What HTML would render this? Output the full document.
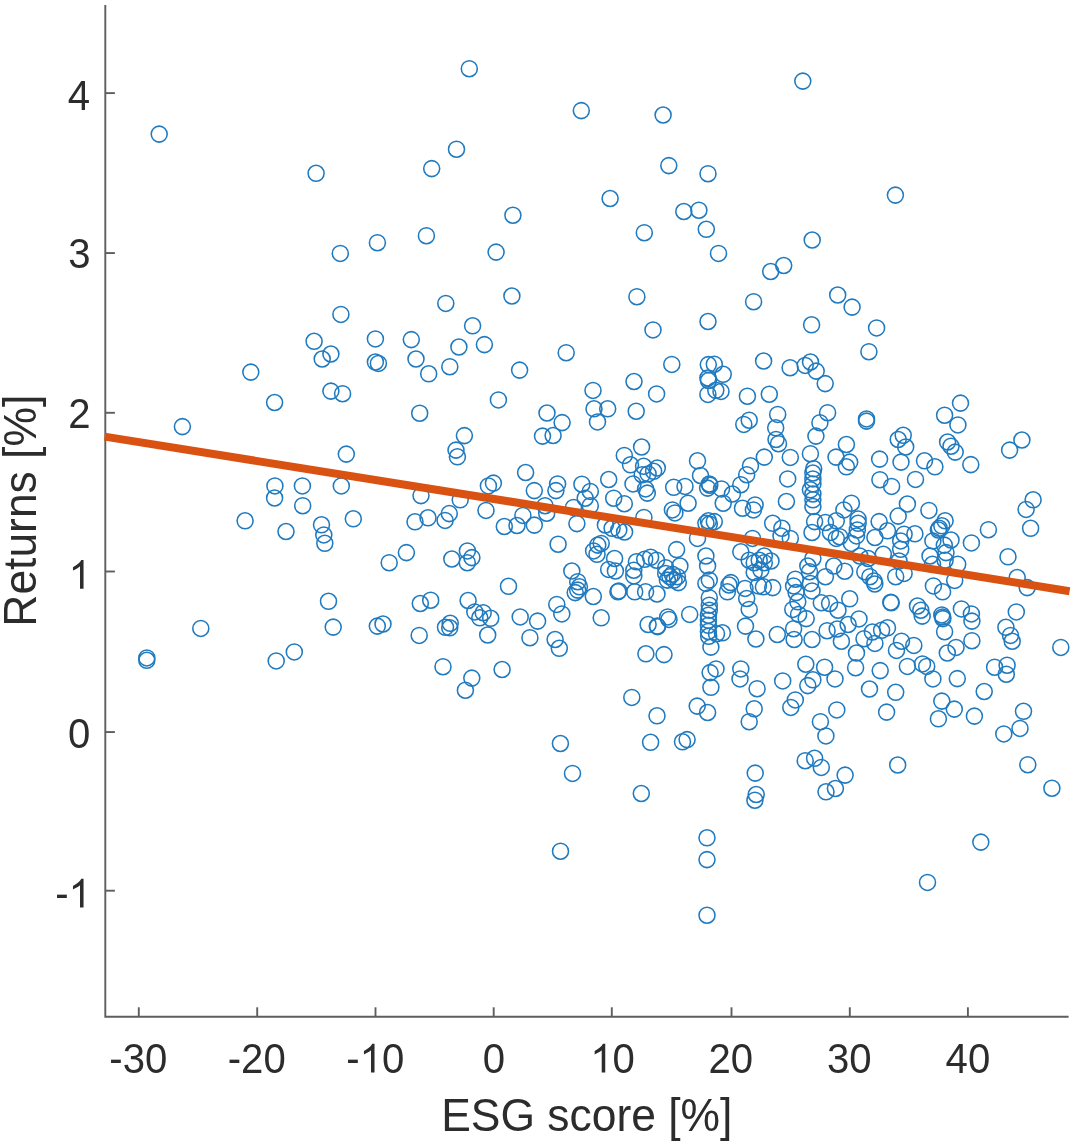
<!DOCTYPE html>
<html><head><meta charset="utf-8"><title>ESG scatter</title>
<style>
html,body{margin:0;padding:0;background:#fff;}
body{width:1074px;height:1143px;overflow:hidden;}
svg{display:block;filter:blur(0.45px);}
text{font-family:"Liberation Sans",sans-serif;fill:#2c2c2c;}
.c circle{fill:none;stroke:#1f7abf;stroke-width:1.55;}
</style></head><body>
<svg width="1074" height="1143" viewBox="0 0 1074 1143">
<rect width="1074" height="1143" fill="#fff"/>
<g stroke="#5e5e5e" stroke-width="1.9" fill="none">
<path d="M105.3 5 V1016.8 H1068.6"/>
<path d="M138.8 1016.8 V1007.3"/>
<path d="M257.2 1016.8 V1007.3"/>
<path d="M375.5 1016.8 V1007.3"/>
<path d="M493.7 1016.8 V1007.3"/>
<path d="M611.8 1016.8 V1007.3"/>
<path d="M731.5 1016.8 V1007.3"/>
<path d="M849.8 1016.8 V1007.3"/>
<path d="M967.9 1016.8 V1007.3"/>
<path d="M105.3 93.10 H114.9"/>
<path d="M105.3 253.05 H114.9"/>
<path d="M105.3 412.80 H114.9"/>
<path d="M105.3 571.50 H114.9"/>
<path d="M105.3 732.05 H114.9"/>
<path d="M105.3 890.70 H114.9"/>
</g>
<g font-size="40.1">
<text transform="translate(109.33 1072.60) scale(1 1.050)">-30</text>
<text transform="translate(227.73 1072.60) scale(1 1.050)">-20</text>
<text transform="translate(346.23 1072.60) scale(1 1.050)">-</text>
<path transform="translate(359.58 1072.60) scale(0.01958 -0.01958)" d="M763 0H583V1147Q518 1085 412.5 1023T223 930V1104Q374 1175 487 1276T647 1472H763Z" fill="#2c2c2c"/>
<text transform="translate(381.88 1072.60) scale(1 1.050)">0</text>
<text transform="translate(482.85 1072.60) scale(1 1.050)">0</text>
<path transform="translate(590.30 1072.60) scale(0.01958 -0.01958)" d="M763 0H583V1147Q518 1085 412.5 1023T223 930V1104Q374 1175 487 1276T647 1472H763Z" fill="#2c2c2c"/>
<text transform="translate(612.60 1072.60) scale(1 1.050)">0</text>
<text transform="translate(708.40 1072.60) scale(1 1.050)">20</text>
<text transform="translate(827.00 1072.60) scale(1 1.050)">30</text>
<text transform="translate(945.60 1072.60) scale(1 1.050)">40</text>
<text transform="translate(67.80 109.70) scale(1 1.050)">4</text>
<text transform="translate(68.20 268.20) scale(1 1.050)">3</text>
<text transform="translate(68.20 428.20) scale(1 1.050)">2</text>
<path transform="translate(68.60 588.80) scale(0.01958 -0.01958)" d="M763 0H583V1147Q518 1085 412.5 1023T223 930V1104Q374 1175 487 1276T647 1472H763Z" fill="#2c2c2c"/>
<text transform="translate(67.90 747.70) scale(1 1.050)">0</text>
<text transform="translate(55.25 907.60) scale(1 1.050)">-</text>
<path transform="translate(68.60 907.60) scale(0.01958 -0.01958)" d="M763 0H583V1147Q518 1085 412.5 1023T223 930V1104Q374 1175 487 1276T647 1472H763Z" fill="#2c2c2c"/>
</g>
<text transform="translate(586.80 1130.70) scale(1 1.030)" font-size="44.4" text-anchor="middle">ESG score [%]</text>
<text transform="translate(35.70 510.70) rotate(-90) scale(1 1.030)" font-size="44.4" text-anchor="middle">Returns [%]</text>
<g class="c">
<circle cx="159.2" cy="134.1" r="8"/>
<circle cx="316.1" cy="173.3" r="8"/>
<circle cx="340.3" cy="253.4" r="8"/>
<circle cx="340.9" cy="314.4" r="8"/>
<circle cx="314.1" cy="341.3" r="8"/>
<circle cx="330.9" cy="354.0" r="8"/>
<circle cx="322.2" cy="359.0" r="8"/>
<circle cx="250.8" cy="372.1" r="8"/>
<circle cx="469.3" cy="68.7" r="8"/>
<circle cx="581.3" cy="110.6" r="8"/>
<circle cx="663.1" cy="115.0" r="8"/>
<circle cx="456.5" cy="149.2" r="8"/>
<circle cx="431.7" cy="168.6" r="8"/>
<circle cx="668.8" cy="165.6" r="8"/>
<circle cx="708.0" cy="173.7" r="8"/>
<circle cx="610.1" cy="198.5" r="8"/>
<circle cx="512.9" cy="215.2" r="8"/>
<circle cx="683.8" cy="211.5" r="8"/>
<circle cx="698.9" cy="210.2" r="8"/>
<circle cx="706.3" cy="229.3" r="8"/>
<circle cx="644.3" cy="232.7" r="8"/>
<circle cx="426.4" cy="235.7" r="8"/>
<circle cx="377.4" cy="242.7" r="8"/>
<circle cx="496.1" cy="252.1" r="8"/>
<circle cx="718.5" cy="253.4" r="8"/>
<circle cx="511.9" cy="296.0" r="8"/>
<circle cx="636.9" cy="296.7" r="8"/>
<circle cx="445.8" cy="303.4" r="8"/>
<circle cx="708.0" cy="321.5" r="8"/>
<circle cx="472.6" cy="325.8" r="8"/>
<circle cx="653.0" cy="329.9" r="8"/>
<circle cx="375.4" cy="338.9" r="8"/>
<circle cx="411.3" cy="339.6" r="8"/>
<circle cx="484.4" cy="344.6" r="8"/>
<circle cx="458.9" cy="347.0" r="8"/>
<circle cx="566.2" cy="352.7" r="8"/>
<circle cx="416.0" cy="359.0" r="8"/>
<circle cx="375.4" cy="362.0" r="8"/>
<circle cx="378.4" cy="363.4" r="8"/>
<circle cx="671.8" cy="364.4" r="8"/>
<circle cx="708.3" cy="364.6" r="8"/>
<circle cx="714.3" cy="364.2" r="8"/>
<circle cx="449.8" cy="366.7" r="8"/>
<circle cx="519.6" cy="370.1" r="8"/>
<circle cx="428.7" cy="373.8" r="8"/>
<circle cx="634.0" cy="381.5" r="8"/>
<circle cx="707.9" cy="378.0" r="8"/>
<circle cx="802.8" cy="81.1" r="8"/>
<circle cx="895.4" cy="195.1" r="8"/>
<circle cx="812.2" cy="240.0" r="8"/>
<circle cx="783.7" cy="265.5" r="8"/>
<circle cx="770.7" cy="271.5" r="8"/>
<circle cx="837.7" cy="295.0" r="8"/>
<circle cx="852.1" cy="307.1" r="8"/>
<circle cx="753.6" cy="301.7" r="8"/>
<circle cx="811.6" cy="324.8" r="8"/>
<circle cx="876.6" cy="327.9" r="8"/>
<circle cx="868.9" cy="351.7" r="8"/>
<circle cx="763.6" cy="361.0" r="8"/>
<circle cx="790.1" cy="367.7" r="8"/>
<circle cx="805.2" cy="365.4" r="8"/>
<circle cx="810.5" cy="362.0" r="8"/>
<circle cx="816.2" cy="371.1" r="8"/>
<circle cx="825.2" cy="383.6" r="8"/>
<circle cx="723.2" cy="374.3" r="8"/>
<circle cx="330.9" cy="391.1" r="8"/>
<circle cx="342.6" cy="393.7" r="8"/>
<circle cx="274.6" cy="402.5" r="8"/>
<circle cx="182.4" cy="426.6" r="8"/>
<circle cx="346.3" cy="454.1" r="8"/>
<circle cx="274.9" cy="485.9" r="8"/>
<circle cx="302.4" cy="485.9" r="8"/>
<circle cx="341.3" cy="485.9" r="8"/>
<circle cx="274.6" cy="498.0" r="8"/>
<circle cx="302.7" cy="505.7" r="8"/>
<circle cx="245.1" cy="520.8" r="8"/>
<circle cx="353.3" cy="518.8" r="8"/>
<circle cx="286.0" cy="531.5" r="8"/>
<circle cx="321.5" cy="524.8" r="8"/>
<circle cx="323.8" cy="534.9" r="8"/>
<circle cx="324.8" cy="543.3" r="8"/>
<circle cx="328.5" cy="601.3" r="8"/>
<circle cx="333.2" cy="627.1" r="8"/>
<circle cx="200.8" cy="628.4" r="8"/>
<circle cx="294.3" cy="651.9" r="8"/>
<circle cx="276.2" cy="660.9" r="8"/>
<circle cx="146.8" cy="657.9" r="8"/>
<circle cx="146.8" cy="660.3" r="8"/>
<circle cx="419.7" cy="413.2" r="8"/>
<circle cx="498.4" cy="399.9" r="8"/>
<circle cx="464.4" cy="435.6" r="8"/>
<circle cx="456.0" cy="450.1" r="8"/>
<circle cx="457.4" cy="456.8" r="8"/>
<circle cx="525.6" cy="472.5" r="8"/>
<circle cx="534.3" cy="490.6" r="8"/>
<circle cx="493.4" cy="483.1" r="8"/>
<circle cx="488.4" cy="485.9" r="8"/>
<circle cx="421.0" cy="495.6" r="8"/>
<circle cx="460.2" cy="499.8" r="8"/>
<circle cx="486.0" cy="510.4" r="8"/>
<circle cx="449.3" cy="513.6" r="8"/>
<circle cx="428.0" cy="517.8" r="8"/>
<circle cx="445.1" cy="520.4" r="8"/>
<circle cx="415.0" cy="521.8" r="8"/>
<circle cx="522.9" cy="515.4" r="8"/>
<circle cx="504.3" cy="526.5" r="8"/>
<circle cx="517.0" cy="525.5" r="8"/>
<circle cx="534.3" cy="525.1" r="8"/>
<circle cx="406.4" cy="552.6" r="8"/>
<circle cx="389.2" cy="562.7" r="8"/>
<circle cx="451.8" cy="559.0" r="8"/>
<circle cx="467.4" cy="550.9" r="8"/>
<circle cx="471.9" cy="557.6" r="8"/>
<circle cx="467.3" cy="562.7" r="8"/>
<circle cx="593.0" cy="390.4" r="8"/>
<circle cx="656.6" cy="393.9" r="8"/>
<circle cx="707.9" cy="394.4" r="8"/>
<circle cx="715.8" cy="390.3" r="8"/>
<circle cx="708.5" cy="380.5" r="8"/>
<circle cx="594.0" cy="408.8" r="8"/>
<circle cx="607.7" cy="408.8" r="8"/>
<circle cx="597.5" cy="421.9" r="8"/>
<circle cx="636.2" cy="411.2" r="8"/>
<circle cx="547.0" cy="413.0" r="8"/>
<circle cx="562.1" cy="422.6" r="8"/>
<circle cx="553.1" cy="435.5" r="8"/>
<circle cx="542.5" cy="436.1" r="8"/>
<circle cx="641.6" cy="447.0" r="8"/>
<circle cx="624.3" cy="455.4" r="8"/>
<circle cx="630.5" cy="464.8" r="8"/>
<circle cx="643.6" cy="466.3" r="8"/>
<circle cx="657.3" cy="468.0" r="8"/>
<circle cx="653.6" cy="471.3" r="8"/>
<circle cx="648.1" cy="473.9" r="8"/>
<circle cx="642.2" cy="474.7" r="8"/>
<circle cx="633.0" cy="483.9" r="8"/>
<circle cx="645.6" cy="488.9" r="8"/>
<circle cx="647.3" cy="493.1" r="8"/>
<circle cx="608.7" cy="479.5" r="8"/>
<circle cx="697.5" cy="460.8" r="8"/>
<circle cx="700.5" cy="475.5" r="8"/>
<circle cx="709.3" cy="483.9" r="8"/>
<circle cx="707.6" cy="488.1" r="8"/>
<circle cx="709.8" cy="485.2" r="8"/>
<circle cx="673.7" cy="487.3" r="8"/>
<circle cx="685.0" cy="486.4" r="8"/>
<circle cx="688.1" cy="503.2" r="8"/>
<circle cx="672.4" cy="509.9" r="8"/>
<circle cx="674.9" cy="512.9" r="8"/>
<circle cx="557.6" cy="483.9" r="8"/>
<circle cx="555.9" cy="490.6" r="8"/>
<circle cx="581.9" cy="484.2" r="8"/>
<circle cx="590.3" cy="491.4" r="8"/>
<circle cx="585.2" cy="498.2" r="8"/>
<circle cx="590.3" cy="505.7" r="8"/>
<circle cx="573.5" cy="507.4" r="8"/>
<circle cx="613.7" cy="498.2" r="8"/>
<circle cx="624.3" cy="503.7" r="8"/>
<circle cx="545.0" cy="505.7" r="8"/>
<circle cx="546.7" cy="513.2" r="8"/>
<circle cx="643.9" cy="517.4" r="8"/>
<circle cx="576.9" cy="523.6" r="8"/>
<circle cx="605.4" cy="525.0" r="8"/>
<circle cx="612.1" cy="528.3" r="8"/>
<circle cx="618.8" cy="530.0" r="8"/>
<circle cx="624.6" cy="532.0" r="8"/>
<circle cx="708.4" cy="520.8" r="8"/>
<circle cx="709.3" cy="524.1" r="8"/>
<circle cx="705.9" cy="523.3" r="8"/>
<circle cx="714.3" cy="521.6" r="8"/>
<circle cx="697.5" cy="538.4" r="8"/>
<circle cx="558.1" cy="544.2" r="8"/>
<circle cx="601.2" cy="543.4" r="8"/>
<circle cx="597.8" cy="545.1" r="8"/>
<circle cx="593.6" cy="550.9" r="8"/>
<circle cx="597.0" cy="554.3" r="8"/>
<circle cx="614.6" cy="558.5" r="8"/>
<circle cx="676.6" cy="549.6" r="8"/>
<circle cx="705.9" cy="556.0" r="8"/>
<circle cx="707.6" cy="566.0" r="8"/>
<circle cx="636.4" cy="561.8" r="8"/>
<circle cx="644.7" cy="559.3" r="8"/>
<circle cx="650.6" cy="557.3" r="8"/>
<circle cx="656.5" cy="560.2" r="8"/>
<circle cx="665.7" cy="567.7" r="8"/>
<circle cx="679.9" cy="566.0" r="8"/>
<circle cx="571.8" cy="571.0" r="8"/>
<circle cx="608.7" cy="569.4" r="8"/>
<circle cx="615.4" cy="571.0" r="8"/>
<circle cx="633.8" cy="570.2" r="8"/>
<circle cx="508.5" cy="586.3" r="8"/>
<circle cx="420.3" cy="603.5" r="8"/>
<circle cx="430.7" cy="600.2" r="8"/>
<circle cx="468.1" cy="600.5" r="8"/>
<circle cx="474.8" cy="611.9" r="8"/>
<circle cx="483.2" cy="612.7" r="8"/>
<circle cx="479.8" cy="617.8" r="8"/>
<circle cx="490.7" cy="618.3" r="8"/>
<circle cx="487.7" cy="635.0" r="8"/>
<circle cx="520.2" cy="616.9" r="8"/>
<circle cx="537.6" cy="621.1" r="8"/>
<circle cx="529.9" cy="637.7" r="8"/>
<circle cx="377.3" cy="626.1" r="8"/>
<circle cx="383.0" cy="624.0" r="8"/>
<circle cx="419.2" cy="635.4" r="8"/>
<circle cx="450.2" cy="623.3" r="8"/>
<circle cx="445.5" cy="627.3" r="8"/>
<circle cx="449.7" cy="627.8" r="8"/>
<circle cx="443.0" cy="666.7" r="8"/>
<circle cx="502.1" cy="669.5" r="8"/>
<circle cx="471.8" cy="678.1" r="8"/>
<circle cx="465.4" cy="690.2" r="8"/>
<circle cx="577.7" cy="581.7" r="8"/>
<circle cx="579.4" cy="586.8" r="8"/>
<circle cx="575.2" cy="592.6" r="8"/>
<circle cx="577.7" cy="590.1" r="8"/>
<circle cx="593.3" cy="596.5" r="8"/>
<circle cx="633.8" cy="575.9" r="8"/>
<circle cx="618.8" cy="590.9" r="8"/>
<circle cx="617.9" cy="591.8" r="8"/>
<circle cx="634.7" cy="591.8" r="8"/>
<circle cx="645.6" cy="591.8" r="8"/>
<circle cx="657.0" cy="594.0" r="8"/>
<circle cx="665.7" cy="573.4" r="8"/>
<circle cx="672.4" cy="574.2" r="8"/>
<circle cx="677.4" cy="576.7" r="8"/>
<circle cx="667.4" cy="580.1" r="8"/>
<circle cx="674.1" cy="580.1" r="8"/>
<circle cx="678.3" cy="582.6" r="8"/>
<circle cx="669.9" cy="576.7" r="8"/>
<circle cx="556.8" cy="604.4" r="8"/>
<circle cx="561.8" cy="613.9" r="8"/>
<circle cx="601.2" cy="617.8" r="8"/>
<circle cx="648.1" cy="624.5" r="8"/>
<circle cx="657.3" cy="626.1" r="8"/>
<circle cx="657.6" cy="626.6" r="8"/>
<circle cx="667.7" cy="616.9" r="8"/>
<circle cx="669.0" cy="619.4" r="8"/>
<circle cx="689.7" cy="614.4" r="8"/>
<circle cx="705.9" cy="583.4" r="8"/>
<circle cx="709.3" cy="580.1" r="8"/>
<circle cx="709.3" cy="597.7" r="8"/>
<circle cx="709.3" cy="605.2" r="8"/>
<circle cx="709.3" cy="610.2" r="8"/>
<circle cx="708.4" cy="615.2" r="8"/>
<circle cx="708.4" cy="620.3" r="8"/>
<circle cx="708.4" cy="625.3" r="8"/>
<circle cx="708.4" cy="631.5" r="8"/>
<circle cx="708.7" cy="636.3" r="8"/>
<circle cx="710.9" cy="647.1" r="8"/>
<circle cx="716.0" cy="668.9" r="8"/>
<circle cx="710.1" cy="672.6" r="8"/>
<circle cx="710.9" cy="687.3" r="8"/>
<circle cx="555.1" cy="639.5" r="8"/>
<circle cx="559.3" cy="648.3" r="8"/>
<circle cx="645.9" cy="653.8" r="8"/>
<circle cx="664.0" cy="654.6" r="8"/>
<circle cx="631.8" cy="697.4" r="8"/>
<circle cx="657.0" cy="715.8" r="8"/>
<circle cx="697.2" cy="706.1" r="8"/>
<circle cx="707.6" cy="712.5" r="8"/>
<circle cx="560.4" cy="743.5" r="8"/>
<circle cx="650.6" cy="742.3" r="8"/>
<circle cx="682.5" cy="741.8" r="8"/>
<circle cx="687.1" cy="739.6" r="8"/>
<circle cx="721.0" cy="391.4" r="8"/>
<circle cx="747.4" cy="396.2" r="8"/>
<circle cx="769.3" cy="394.2" r="8"/>
<circle cx="777.7" cy="414.4" r="8"/>
<circle cx="749.2" cy="420.2" r="8"/>
<circle cx="743.8" cy="424.4" r="8"/>
<circle cx="775.7" cy="427.8" r="8"/>
<circle cx="776.0" cy="439.5" r="8"/>
<circle cx="778.5" cy="443.7" r="8"/>
<circle cx="827.6" cy="412.7" r="8"/>
<circle cx="819.9" cy="422.7" r="8"/>
<circle cx="815.9" cy="436.1" r="8"/>
<circle cx="866.5" cy="418.9" r="8"/>
<circle cx="866.5" cy="421.1" r="8"/>
<circle cx="846.4" cy="444.5" r="8"/>
<circle cx="836.0" cy="457.1" r="8"/>
<circle cx="849.7" cy="462.1" r="8"/>
<circle cx="846.4" cy="466.8" r="8"/>
<circle cx="879.6" cy="459.1" r="8"/>
<circle cx="764.3" cy="457.1" r="8"/>
<circle cx="790.3" cy="457.4" r="8"/>
<circle cx="810.4" cy="453.7" r="8"/>
<circle cx="750.5" cy="465.8" r="8"/>
<circle cx="746.7" cy="474.7" r="8"/>
<circle cx="740.8" cy="484.7" r="8"/>
<circle cx="813.7" cy="468.8" r="8"/>
<circle cx="812.9" cy="473.0" r="8"/>
<circle cx="812.9" cy="478.9" r="8"/>
<circle cx="812.9" cy="483.9" r="8"/>
<circle cx="810.4" cy="489.8" r="8"/>
<circle cx="812.9" cy="494.0" r="8"/>
<circle cx="812.9" cy="499.8" r="8"/>
<circle cx="812.9" cy="506.5" r="8"/>
<circle cx="787.7" cy="478.9" r="8"/>
<circle cx="786.4" cy="501.5" r="8"/>
<circle cx="879.9" cy="479.7" r="8"/>
<circle cx="891.6" cy="486.4" r="8"/>
<circle cx="721.5" cy="488.9" r="8"/>
<circle cx="732.4" cy="494.0" r="8"/>
<circle cx="723.2" cy="503.2" r="8"/>
<circle cx="742.5" cy="508.2" r="8"/>
<circle cx="755.1" cy="504.9" r="8"/>
<circle cx="753.4" cy="509.9" r="8"/>
<circle cx="851.4" cy="503.2" r="8"/>
<circle cx="843.9" cy="509.9" r="8"/>
<circle cx="772.7" cy="523.3" r="8"/>
<circle cx="781.9" cy="528.3" r="8"/>
<circle cx="781.0" cy="535.9" r="8"/>
<circle cx="790.3" cy="538.4" r="8"/>
<circle cx="752.5" cy="538.4" r="8"/>
<circle cx="814.6" cy="521.6" r="8"/>
<circle cx="825.4" cy="522.5" r="8"/>
<circle cx="836.3" cy="520.8" r="8"/>
<circle cx="812.0" cy="532.5" r="8"/>
<circle cx="830.5" cy="532.5" r="8"/>
<circle cx="839.7" cy="536.7" r="8"/>
<circle cx="836.3" cy="538.4" r="8"/>
<circle cx="858.1" cy="519.1" r="8"/>
<circle cx="858.1" cy="523.3" r="8"/>
<circle cx="857.3" cy="530.0" r="8"/>
<circle cx="856.5" cy="535.9" r="8"/>
<circle cx="851.4" cy="543.4" r="8"/>
<circle cx="879.1" cy="521.6" r="8"/>
<circle cx="887.5" cy="530.8" r="8"/>
<circle cx="874.9" cy="537.5" r="8"/>
<circle cx="740.8" cy="551.8" r="8"/>
<circle cx="749.2" cy="560.2" r="8"/>
<circle cx="754.2" cy="562.7" r="8"/>
<circle cx="759.2" cy="560.2" r="8"/>
<circle cx="764.3" cy="556.0" r="8"/>
<circle cx="764.3" cy="562.7" r="8"/>
<circle cx="771.0" cy="561.0" r="8"/>
<circle cx="812.9" cy="558.5" r="8"/>
<circle cx="807.8" cy="566.0" r="8"/>
<circle cx="833.8" cy="566.0" r="8"/>
<circle cx="859.8" cy="556.0" r="8"/>
<circle cx="868.2" cy="558.5" r="8"/>
<circle cx="883.3" cy="554.3" r="8"/>
<circle cx="844.7" cy="571.2" r="8"/>
<circle cx="960.5" cy="403.1" r="8"/>
<circle cx="944.6" cy="415.2" r="8"/>
<circle cx="957.9" cy="424.9" r="8"/>
<circle cx="903.2" cy="435.3" r="8"/>
<circle cx="898.2" cy="439.5" r="8"/>
<circle cx="905.7" cy="447.0" r="8"/>
<circle cx="901.0" cy="462.1" r="8"/>
<circle cx="947.6" cy="442.0" r="8"/>
<circle cx="951.0" cy="446.2" r="8"/>
<circle cx="955.2" cy="452.1" r="8"/>
<circle cx="924.5" cy="460.8" r="8"/>
<circle cx="934.9" cy="466.8" r="8"/>
<circle cx="970.8" cy="464.6" r="8"/>
<circle cx="1021.9" cy="440.0" r="8"/>
<circle cx="1009.6" cy="450.1" r="8"/>
<circle cx="915.5" cy="479.4" r="8"/>
<circle cx="907.4" cy="504.0" r="8"/>
<circle cx="928.9" cy="510.4" r="8"/>
<circle cx="898.2" cy="516.1" r="8"/>
<circle cx="945.1" cy="520.8" r="8"/>
<circle cx="941.8" cy="525.8" r="8"/>
<circle cx="938.4" cy="530.0" r="8"/>
<circle cx="939.2" cy="528.3" r="8"/>
<circle cx="914.9" cy="533.8" r="8"/>
<circle cx="904.1" cy="534.2" r="8"/>
<circle cx="900.7" cy="540.9" r="8"/>
<circle cx="932.9" cy="540.9" r="8"/>
<circle cx="951.0" cy="540.0" r="8"/>
<circle cx="944.3" cy="545.1" r="8"/>
<circle cx="971.4" cy="542.9" r="8"/>
<circle cx="988.4" cy="529.7" r="8"/>
<circle cx="1033.1" cy="499.8" r="8"/>
<circle cx="1026.1" cy="509.4" r="8"/>
<circle cx="1030.6" cy="528.3" r="8"/>
<circle cx="1008.0" cy="556.8" r="8"/>
<circle cx="930.0" cy="556.0" r="8"/>
<circle cx="946.0" cy="552.6" r="8"/>
<circle cx="945.1" cy="560.2" r="8"/>
<circle cx="957.7" cy="564.3" r="8"/>
<circle cx="932.5" cy="564.3" r="8"/>
<circle cx="900.7" cy="549.3" r="8"/>
<circle cx="899.0" cy="561.0" r="8"/>
<circle cx="754.2" cy="572.5" r="8"/>
<circle cx="760.9" cy="570.0" r="8"/>
<circle cx="730.8" cy="582.6" r="8"/>
<circle cx="727.4" cy="591.8" r="8"/>
<circle cx="729.0" cy="585.0" r="8"/>
<circle cx="745.0" cy="588.4" r="8"/>
<circle cx="746.7" cy="598.5" r="8"/>
<circle cx="749.2" cy="609.4" r="8"/>
<circle cx="763.4" cy="586.8" r="8"/>
<circle cx="772.7" cy="587.6" r="8"/>
<circle cx="758.4" cy="585.9" r="8"/>
<circle cx="795.3" cy="579.2" r="8"/>
<circle cx="793.6" cy="585.9" r="8"/>
<circle cx="796.1" cy="592.6" r="8"/>
<circle cx="797.8" cy="601.8" r="8"/>
<circle cx="792.8" cy="609.4" r="8"/>
<circle cx="798.6" cy="614.4" r="8"/>
<circle cx="806.2" cy="618.6" r="8"/>
<circle cx="793.6" cy="628.7" r="8"/>
<circle cx="794.1" cy="639.5" r="8"/>
<circle cx="810.4" cy="583.4" r="8"/>
<circle cx="812.0" cy="590.9" r="8"/>
<circle cx="809.5" cy="571.7" r="8"/>
<circle cx="825.4" cy="576.7" r="8"/>
<circle cx="849.7" cy="598.8" r="8"/>
<circle cx="821.3" cy="602.7" r="8"/>
<circle cx="829.6" cy="603.5" r="8"/>
<circle cx="838.0" cy="610.2" r="8"/>
<circle cx="859.0" cy="618.9" r="8"/>
<circle cx="848.1" cy="624.5" r="8"/>
<circle cx="837.2" cy="629.0" r="8"/>
<circle cx="827.1" cy="630.7" r="8"/>
<circle cx="841.4" cy="641.2" r="8"/>
<circle cx="812.0" cy="639.5" r="8"/>
<circle cx="777.3" cy="634.5" r="8"/>
<circle cx="755.9" cy="639.0" r="8"/>
<circle cx="745.5" cy="626.1" r="8"/>
<circle cx="722.4" cy="632.8" r="8"/>
<circle cx="716.5" cy="633.7" r="8"/>
<circle cx="740.8" cy="668.9" r="8"/>
<circle cx="740.0" cy="678.9" r="8"/>
<circle cx="757.1" cy="688.7" r="8"/>
<circle cx="754.2" cy="708.8" r="8"/>
<circle cx="749.2" cy="721.7" r="8"/>
<circle cx="782.7" cy="680.9" r="8"/>
<circle cx="805.8" cy="664.2" r="8"/>
<circle cx="824.6" cy="667.2" r="8"/>
<circle cx="835.0" cy="678.9" r="8"/>
<circle cx="812.9" cy="679.8" r="8"/>
<circle cx="807.8" cy="685.6" r="8"/>
<circle cx="795.3" cy="699.9" r="8"/>
<circle cx="790.8" cy="707.4" r="8"/>
<circle cx="836.8" cy="709.9" r="8"/>
<circle cx="820.4" cy="721.7" r="8"/>
<circle cx="825.9" cy="735.9" r="8"/>
<circle cx="856.5" cy="653.0" r="8"/>
<circle cx="855.6" cy="667.7" r="8"/>
<circle cx="869.5" cy="689.0" r="8"/>
<circle cx="880.2" cy="670.6" r="8"/>
<circle cx="886.6" cy="712.1" r="8"/>
<circle cx="864.0" cy="638.7" r="8"/>
<circle cx="874.9" cy="643.4" r="8"/>
<circle cx="872.4" cy="632.0" r="8"/>
<circle cx="881.6" cy="630.3" r="8"/>
<circle cx="887.5" cy="627.8" r="8"/>
<circle cx="890.8" cy="602.2" r="8"/>
<circle cx="891.2" cy="602.8" r="8"/>
<circle cx="874.0" cy="580.9" r="8"/>
<circle cx="874.8" cy="584.0" r="8"/>
<circle cx="869.9" cy="576.7" r="8"/>
<circle cx="864.8" cy="571.7" r="8"/>
<circle cx="895.7" cy="576.7" r="8"/>
<circle cx="904.1" cy="573.4" r="8"/>
<circle cx="933.4" cy="585.9" r="8"/>
<circle cx="942.6" cy="591.8" r="8"/>
<circle cx="954.7" cy="580.4" r="8"/>
<circle cx="1017.2" cy="577.5" r="8"/>
<circle cx="1027.2" cy="587.6" r="8"/>
<circle cx="917.5" cy="606.0" r="8"/>
<circle cx="920.8" cy="610.2" r="8"/>
<circle cx="922.2" cy="616.1" r="8"/>
<circle cx="941.8" cy="614.9" r="8"/>
<circle cx="942.9" cy="618.6" r="8"/>
<circle cx="942.6" cy="616.9" r="8"/>
<circle cx="944.6" cy="631.7" r="8"/>
<circle cx="961.4" cy="608.9" r="8"/>
<circle cx="971.4" cy="613.9" r="8"/>
<circle cx="971.9" cy="621.1" r="8"/>
<circle cx="971.9" cy="640.7" r="8"/>
<circle cx="956.0" cy="647.4" r="8"/>
<circle cx="947.3" cy="653.0" r="8"/>
<circle cx="1016.3" cy="611.9" r="8"/>
<circle cx="1005.9" cy="627.3" r="8"/>
<circle cx="1010.5" cy="635.4" r="8"/>
<circle cx="1012.2" cy="641.2" r="8"/>
<circle cx="1060.8" cy="647.4" r="8"/>
<circle cx="901.5" cy="641.2" r="8"/>
<circle cx="913.8" cy="645.4" r="8"/>
<circle cx="896.5" cy="650.4" r="8"/>
<circle cx="907.4" cy="666.4" r="8"/>
<circle cx="922.5" cy="663.9" r="8"/>
<circle cx="926.7" cy="666.4" r="8"/>
<circle cx="932.9" cy="678.9" r="8"/>
<circle cx="957.3" cy="678.6" r="8"/>
<circle cx="895.7" cy="692.3" r="8"/>
<circle cx="941.8" cy="701.1" r="8"/>
<circle cx="954.3" cy="709.1" r="8"/>
<circle cx="938.4" cy="718.8" r="8"/>
<circle cx="974.4" cy="716.1" r="8"/>
<circle cx="984.2" cy="691.5" r="8"/>
<circle cx="994.6" cy="667.2" r="8"/>
<circle cx="1007.1" cy="665.2" r="8"/>
<circle cx="1006.3" cy="674.2" r="8"/>
<circle cx="1023.5" cy="711.3" r="8"/>
<circle cx="1020.0" cy="728.4" r="8"/>
<circle cx="1003.8" cy="733.9" r="8"/>
<circle cx="572.5" cy="773.4" r="8"/>
<circle cx="641.3" cy="793.5" r="8"/>
<circle cx="560.5" cy="851.2" r="8"/>
<circle cx="707.0" cy="837.8" r="8"/>
<circle cx="707.0" cy="859.6" r="8"/>
<circle cx="707.0" cy="915.2" r="8"/>
<circle cx="755.2" cy="773.1" r="8"/>
<circle cx="756.2" cy="794.5" r="8"/>
<circle cx="754.9" cy="800.2" r="8"/>
<circle cx="805.2" cy="760.7" r="8"/>
<circle cx="814.6" cy="758.3" r="8"/>
<circle cx="821.3" cy="767.4" r="8"/>
<circle cx="845.1" cy="775.1" r="8"/>
<circle cx="835.4" cy="788.5" r="8"/>
<circle cx="826.0" cy="791.8" r="8"/>
<circle cx="897.7" cy="765.0" r="8"/>
<circle cx="1027.8" cy="764.7" r="8"/>
<circle cx="1051.9" cy="788.2" r="8"/>
<circle cx="980.8" cy="842.1" r="8"/>
<circle cx="927.5" cy="882.4" r="8"/>
</g>
<path d="M104.6 436.6 L1069.6 591.2" stroke="#DA5212" stroke-width="8" fill="none"/>
</svg>
</body></html>
